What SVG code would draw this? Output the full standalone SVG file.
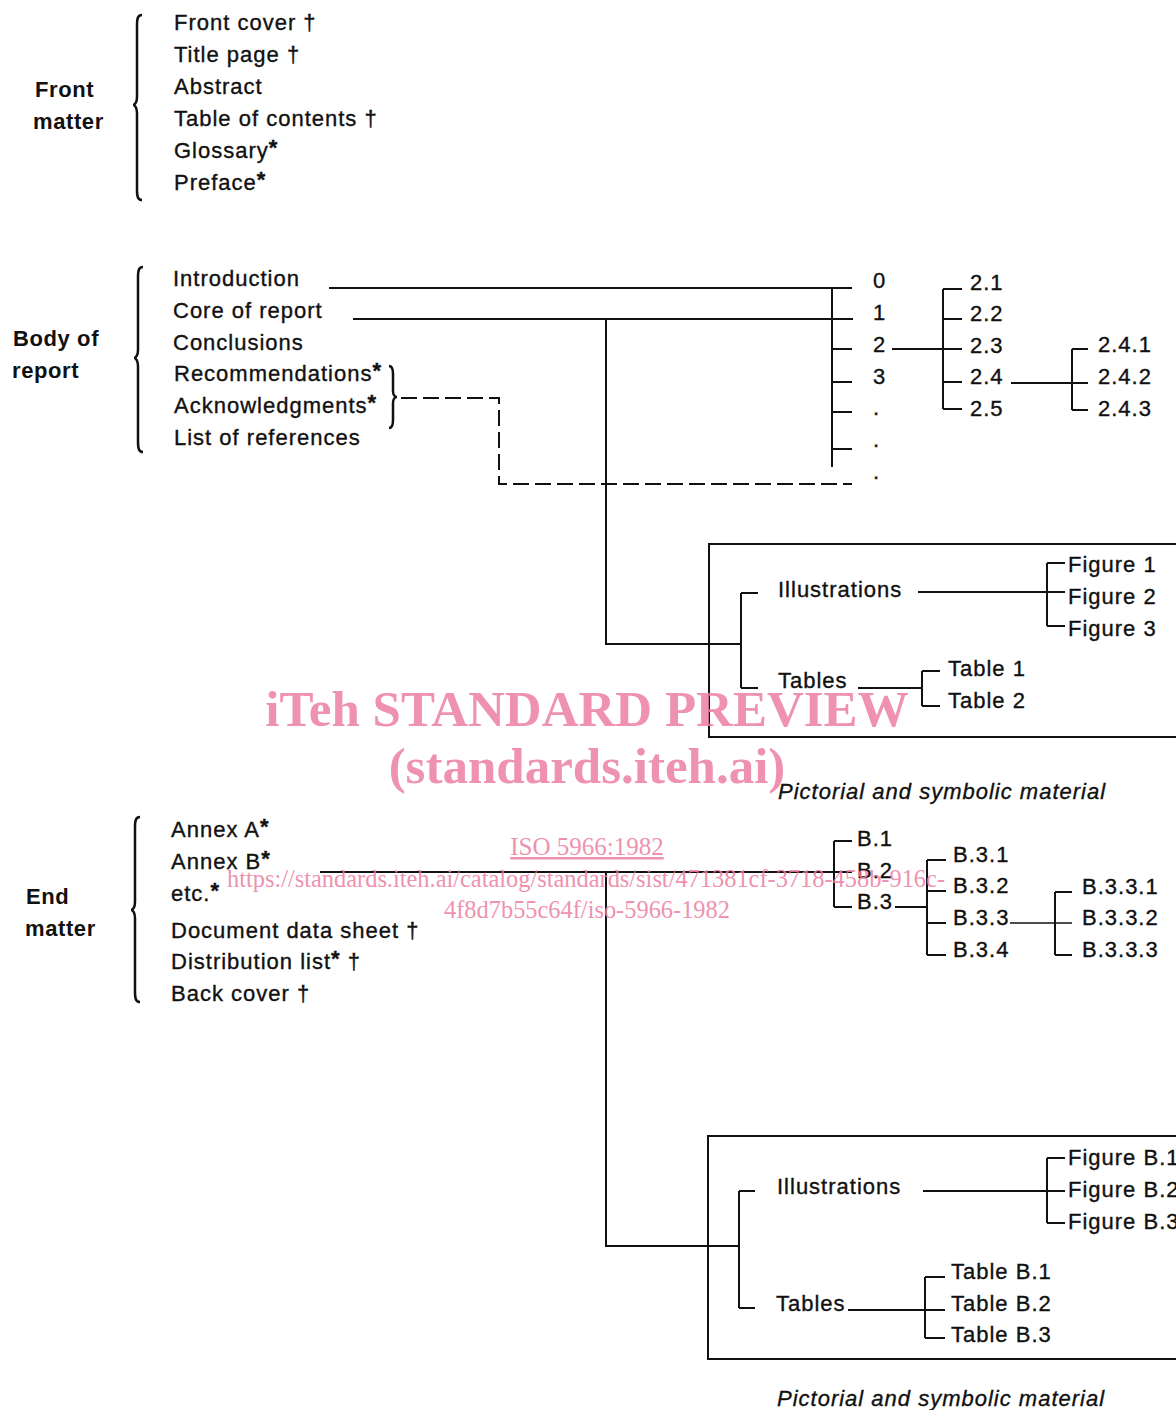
<svg xmlns="http://www.w3.org/2000/svg" width="1176" height="1410" viewBox="0 0 1176 1410">
<style>
.t{font-family:"Liberation Sans",Arial,sans-serif;font-size:22px;letter-spacing:1px;fill:#111;stroke:#111;stroke-width:0.35}
.b{font-weight:bold;letter-spacing:0.6px;stroke-width:0}
.i{font-style:italic}
.s{font-weight:bold}
.ln{stroke:#111;stroke-width:2;fill:none}
.br{stroke:#111;stroke-width:2.5;fill:none}
.thin{stroke-width:1.5}
.dash{stroke-dasharray:16 6}
.wm{font-family:"Liberation Serif","Times New Roman",serif;fill:#ec7fa3;opacity:0.85}
</style>
<rect width="1176" height="1410" fill="#fff"/>

<g id="front-matter">
<text class="t b" x="35" y="97">Front</text>
<text class="t b" x="33" y="129">matter</text>
<path class="br" d="M142,15 C138,15 137,18 137,25 L137,97 C137,102 135,105 133,105 C135,105 137,108 137,113 L137,190 C137,197 138,200 142,200"/>
<text class="t" x="174" y="30">Front cover †</text>
<text class="t" x="174" y="62">Title page †</text>
<text class="t" x="174" y="94">Abstract</text>
<text class="t" x="174" y="126">Table of contents †</text>
<text class="t" x="174" y="158">Glossary<tspan class="s" dy="-3">*</tspan></text>
<text class="t" x="174" y="190">Preface<tspan class="s" dy="-3">*</tspan></text>
</g>

<g id="body-of-report">
<text class="t b" x="13" y="346">Body of</text>
<text class="t b" x="12" y="378">report</text>
<path class="br" d="M143,267 C139,267 138,270 138,277 L138,350 C138,355 136,358 134,358 C136,358 138,361 138,366 L138,442 C138,449 139,452 143,452"/>
<text class="t" x="173" y="286">Introduction</text>
<text class="t" x="173" y="318">Core of report</text>
<text class="t" x="173" y="350">Conclusions</text>
<text class="t" x="174" y="381">Recommendations<tspan class="s" dy="-3">*</tspan></text>
<text class="t" x="174" y="413">Acknowledgments<tspan class="s" dy="-3">*</tspan></text>
<text class="t" x="174" y="445">List of references</text>
<path class="br" d="M389,366 C392,366 393,369 393,374 L393,391 C393,395 395,397 397,397 C395,397 393,399 393,403 L393,420 C393,425 392,428 389,428"/>
</g>

<g id="sections">
<text class="t" x="873" y="288">0</text>
<text class="t" x="873" y="320">1</text>
<text class="t" x="873" y="352">2</text>
<text class="t" x="873" y="384">3</text>
<text class="t" x="873" y="415">.</text>
<text class="t" x="873" y="447">.</text>
<text class="t" x="873" y="479">.</text>
</g>

<g id="subsections">
<text class="t" x="970" y="290">2.1</text>
<text class="t" x="970" y="321">2.2</text>
<text class="t" x="970" y="353">2.3</text>
<text class="t" x="970" y="384">2.4</text>
<text class="t" x="970" y="416">2.5</text>
<text class="t" x="1098" y="352">2.4.1</text>
<text class="t" x="1098" y="384">2.4.2</text>
<text class="t" x="1098" y="416">2.4.3</text>
</g>

<g id="pictorial-1">
<path class="ln" d="M1180,544 H709 V737 H1180"/>
<text class="t" x="778" y="597">Illustrations</text>
<text class="t" x="1068" y="572">Figure 1</text>
<text class="t" x="1068" y="604">Figure 2</text>
<text class="t" x="1068" y="636">Figure 3</text>
<text class="t" x="778" y="688">Tables</text>
<text class="t" x="948" y="676">Table 1</text>
<text class="t" x="948" y="708">Table 2</text>
<text class="t i" x="778" y="799">Pictorial and symbolic material</text>
</g>

<g id="end-matter">
<text class="t b" x="26" y="904">End</text>
<text class="t b" x="25" y="936">matter</text>
<path class="br" d="M140,817 C136,817 135,820 135,827 L135,902 C135,907 133,910 131,910 C133,910 135,913 135,918 L135,992 C135,999 136,1002 140,1002"/>
<text class="t" x="171" y="837">Annex A<tspan class="s" dy="-3">*</tspan></text>
<text class="t" x="171" y="869">Annex B<tspan class="s" dy="-3">*</tspan></text>
<text class="t" x="171" y="901">etc.<tspan class="s" dy="-3">*</tspan></text>
<text class="t" x="171" y="938">Document data sheet †</text>
<text class="t" x="171" y="969">Distribution list<tspan class="s" dy="-3">*</tspan><tspan dy="3"> †</tspan></text>
<text class="t" x="171" y="1001">Back cover †</text>
</g>

<g id="annex-tree">
<text class="t" x="857" y="846">B.1</text>
<text class="t" x="857" y="878">B.2</text>
<text class="t" x="857" y="909">B.3</text>
<text class="t" x="953" y="862">B.3.1</text>
<text class="t" x="953" y="893">B.3.2</text>
<text class="t" x="953" y="925">B.3.3</text>
<text class="t" x="953" y="957">B.3.4</text>
<text class="t" x="1082" y="894">B.3.3.1</text>
<text class="t" x="1082" y="925">B.3.3.2</text>
<text class="t" x="1082" y="957">B.3.3.3</text>
</g>

<g id="pictorial-2">
<path class="ln" d="M1180,1136 H708 V1359 H1180"/>
<text class="t" x="777" y="1194">Illustrations</text>
<text class="t" x="1068" y="1165">Figure B.1</text>
<text class="t" x="1068" y="1197">Figure B.2</text>
<text class="t" x="1068" y="1229">Figure B.3</text>
<text class="t" x="776" y="1311">Tables</text>
<text class="t" x="951" y="1279">Table B.1</text>
<text class="t" x="951" y="1311">Table B.2</text>
<text class="t" x="951" y="1342">Table B.3</text>
<text class="t i" x="777" y="1406">Pictorial and symbolic material</text>
</g>

<g id="connectors">
<path class="ln" d="M329,288 H852 M353,319 H853 M832,288 V467 M832,349 H852 M832,382 H852 M832,412 H852 M832,449 H852"/>
<path class="ln dash" d="M401,398 H499 V484 H852"/>
<path class="ln" d="M606,319 V644 H741 M741,593 V688 M741,593 H758 M741,688 H758"/>
<path class="ln" d="M918,592 H1065 M1047,563 V626 M1047,563 H1065 M1047,626 H1065"/>
<path class="ln" d="M858,688 H922 M922,671 V706 M922,671 H940 M922,706 H940"/>
<path class="ln" d="M892,349 H943 M943,289 V409 M943,289 H962 M943,319 H962 M943,349 H962 M943,382 H962 M943,409 H962"/>
<path class="ln" d="M1011,383 H1088 M1072,349 V410 M1072,349 H1088 M1072,410 H1088"/>
<path class="ln" d="M320,872 H852 M834,841 V907 M834,841 H852 M834,907 H852"/>
<path class="ln" d="M895,907 H927 M927,860 V955 M927,860 H946 M927,891 H946 M927,923 H946 M927,955 H946"/>
<path class="ln thin" d="M1010,923 H1072"/>
<path class="ln" d="M1055,892 V955 M1055,892 H1072 M1055,955 H1072"/>
<path class="ln" d="M606,872 V1246 H739 M739,1191 V1308 M739,1191 H755 M739,1308 H755"/>
<path class="ln" d="M923,1191 H1065 M1047,1158 V1223 M1047,1158 H1065 M1047,1223 H1065"/>
<path class="ln" d="M848,1310 H945 M925,1277 V1338 M925,1277 H945 M925,1338 H945"/>
</g>

<g id="watermark">
<text class="wm" x="587" y="726" font-size="51" font-weight="bold" text-anchor="middle">iTeh STANDARD PREVIEW</text>
<text class="wm" x="587" y="783" font-size="51" font-weight="bold" text-anchor="middle">(standards.iteh.ai)</text>
<text class="wm" x="587" y="855" font-size="25" text-anchor="middle" text-decoration="underline">ISO 5966:1982</text>
<text class="wm" x="586" y="887" font-size="24.4" text-anchor="middle">https://standards.iteh.ai/catalog/standards/sist/471381cf-3718-458b-916c-</text>
<text class="wm" x="587" y="918" font-size="24.4" text-anchor="middle">4f8d7b55c64f/iso-5966-1982</text>
</g>
</svg>
